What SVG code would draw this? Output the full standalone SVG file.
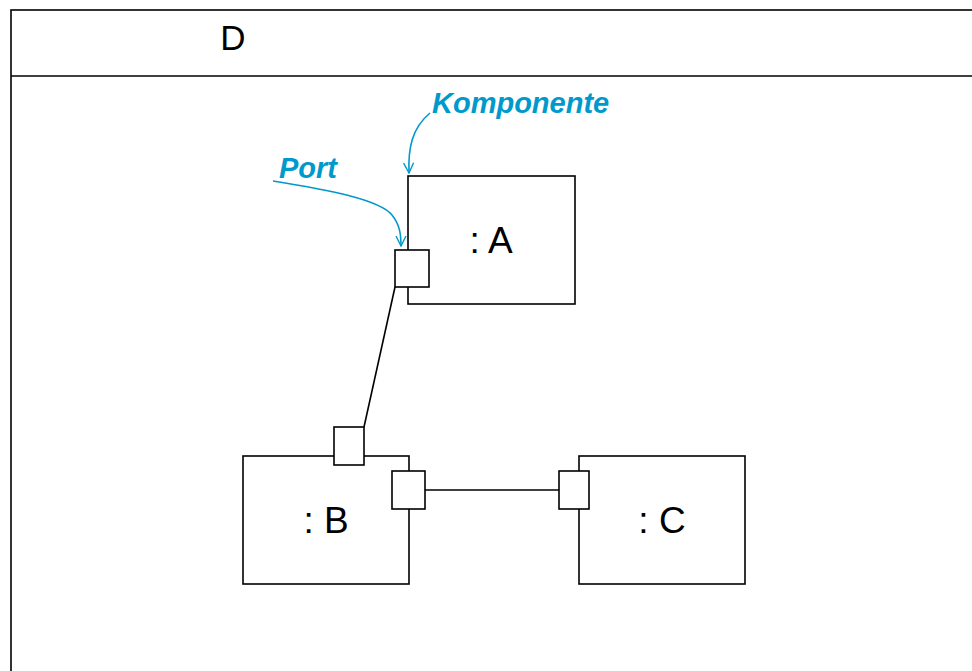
<svg xmlns="http://www.w3.org/2000/svg" width="972" height="671" viewBox="0 0 972 671">
  <style>
    .box { fill: #ffffff; stroke: #000000; stroke-width: 1.6; }
    .port { fill: #ffffff; stroke: #000000; stroke-width: 1.6; }
    .wire { fill: none; stroke: #000000; stroke-width: 1.6; }
    .note { fill: none; stroke: #0099cc; stroke-width: 1.6; }
    .lbl { font-family: "Liberation Sans", Arial, sans-serif; fill: #000000; text-anchor: middle; }
    .ann { font-family: "Liberation Sans", Arial, sans-serif; font-weight: bold; font-style: italic; fill: #0099cc; font-size: 29px; }
  </style>
  <defs>
    <marker id="openArrow" viewBox="0 0 12 12" refX="11" refY="6" markerWidth="12" markerHeight="12" markerUnits="userSpaceOnUse" orient="auto">
      <path d="M1,1 L11,6 L1,11" fill="none" stroke="#0099cc" stroke-width="1.4"/>
    </marker>
  </defs>
  <rect width="972" height="671" fill="#ffffff"/>

  <!-- outer structured classifier frame D -->
  <g id="frameD">
    <rect x="11" y="10" width="975" height="675" fill="none" stroke="#000000" stroke-width="1.6"/>
    <line x1="11" y1="76" x2="972" y2="76" stroke="#000000" stroke-width="1.6"/>
    <text class="lbl" x="233" y="50" font-size="35">D</text>
  </g>

  <!-- connectors between ports -->
  <g id="connectors">
    <line class="wire" x1="395" y1="287" x2="364" y2="427"/>
    <line class="wire" x1="425" y1="490" x2="559" y2="490"/>
  </g>

  <!-- part A -->
  <g id="partA">
    <rect class="box" x="408" y="176" width="167" height="128"/>
    <text class="lbl" x="491" y="253" font-size="37">: A</text>
    <rect class="port" x="395" y="250" width="34" height="37"/>
  </g>

  <!-- part B -->
  <g id="partB">
    <rect class="box" x="243" y="456" width="166" height="128"/>
    <text class="lbl" x="326" y="533" font-size="37">: B</text>
    <rect class="port" x="334" y="427" width="30" height="38"/>
    <rect class="port" x="392" y="471" width="33" height="38"/>
  </g>

  <!-- part C -->
  <g id="partC">
    <rect class="box" x="579" y="456" width="166" height="128"/>
    <text class="lbl" x="662" y="533" font-size="37">: C</text>
    <rect class="port" x="559" y="471" width="30" height="38"/>
  </g>

  <!-- annotations -->
  <g id="noteKomponente">
    <text class="ann" x="432" y="113">Komponente</text>
    <path class="note" d="M430,113 C412,128 408,148 409,173" marker-end="url(#openArrow)"/>
  </g>
  <g id="notePort">
    <text class="ann" x="279" y="178">Port</text>
    <path class="note" d="M273,181 C330,190 380,200 392,215 C400,225 401,235 401,246" marker-end="url(#openArrow)"/>
  </g>
</svg>
